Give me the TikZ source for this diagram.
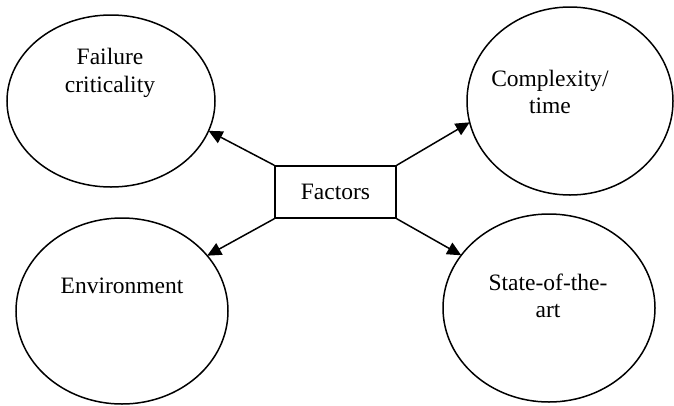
\documentclass[tikz,border=0pt]{standalone}
\usepackage{fontspec}
\setmainfont{Liberation Serif}
\usetikzlibrary{shapes.geometric,arrows.meta}
\tikzset{
  bubble/.style={ellipse,draw,line width=1.5pt,inner sep=0pt,outer sep=0pt},
  factorbox/.style={rectangle,draw,line width=1.5pt,minimum width=121pt,minimum height=52pt,inner sep=0pt},
  caption/.style={align=center,font=\fontsize{23.5}{27.5}\selectfont},
  link/.style={line width=1.5pt,-{Triangle[length=14pt,width=13pt]}}
}
\begin{document}
\begin{tikzpicture}[x=1pt,y=-1pt]
  \useasboundingbox (0,0) rectangle (674,405);
  % four factor bubbles
  \node[bubble,minimum width=208pt,minimum height=172pt] (e1) at (111,101) {};
  \node[bubble,minimum width=206pt,minimum height=188pt] (e2) at (570,101) {};
  \node[bubble,minimum width=212pt,minimum height=186pt] (e3) at (122,311) {};
  \node[bubble,minimum width=212pt,minimum height=188pt] (e4) at (549,308) {};
  % labels inside the bubbles
  \node[caption] (t1) at (110,73) {Failure\\criticality};
  \node[caption] (t2) at (550,92) {Complexity/\\time};
  \node[caption] (t3) at (122,286) {Environment};
  \node[caption] (t4) at (548,296) {State-of-the-\\art};
  % central box
  \node[factorbox,caption] (f) at (335.5,192) {Factors};
  % arrows from the box corners
  \draw[link] (f.north west) -- (e1.-17);
  \draw[link] (f.north east) -- (e2.192);
  \draw[link] (f.south west) -- (e3.33);
  \draw[link] (f.south east) -- (e4.149);
\end{tikzpicture}
\end{document}
